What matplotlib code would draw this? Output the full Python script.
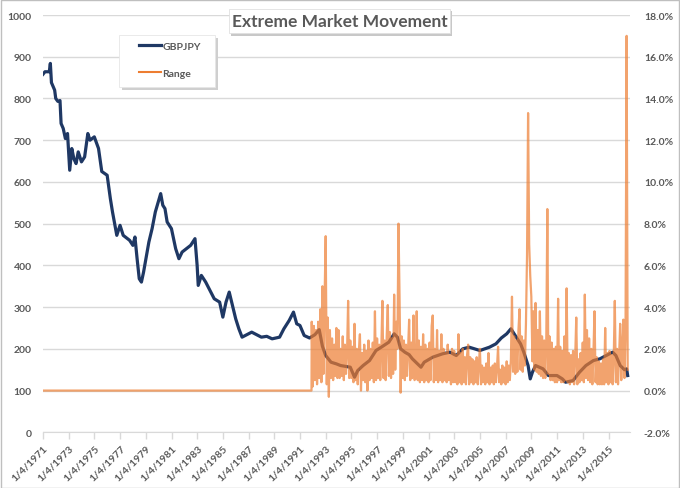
import pandas as pd
import matplotlib
matplotlib.use('Agg')
import matplotlib.pyplot as plt
from matplotlib.patches import Rectangle

plt.rcParams['font.family'] = ['Lato', 'DejaVu Sans']

# GBPJPY (left axis)
gbp_dates = ['1971-01-04', '1971-03', '1971-07', '1971-08', '1971-09', '1971-12', '1972-01', '1972-03',
             '1972-05', '1972-06', '1972-08', '1972-10', '1972-12', '1973-02', '1973-04', '1973-06',
             '1973-08', '1973-10', '1974-01', '1974-04', '1974-07', '1974-09', '1975-01', '1975-05',
             '1975-08', '1976-01', '1976-04', '1976-06', '1976-10', '1977-01', '1977-04', '1977-10',
             '1978-01', '1978-03', '1978-05', '1978-07', '1978-09', '1978-11', '1979-04', '1979-07',
             '1979-10', '1980-03', '1980-05', '1980-07', '1980-09', '1981-01', '1981-05', '1981-08',
             '1981-11', '1982-03', '1982-07', '1982-11', '1983-01', '1983-02', '1983-05', '1983-09',
             '1984-01', '1984-05', '1984-10', '1985-01', '1985-04', '1985-07', '1985-10', '1986-01',
             '1986-04', '1986-07', '1987-01', '1987-04', '1987-07', '1987-10', '1988-01', '1988-06',
             '1988-11', '1989-06', '1989-10', '1990-03', '1990-07', '1990-10', '1991-01', '1991-05',
             '1991-10', '1992-03', '1992-07', '1992-10', '1993-01', '1993-06', '1993-11', '1994-03',
             '1994-12', '1995-04', '1995-07', '1995-12', '1996-06', '1996-12', '1997-05', '1997-12',
             '1998-05', '1998-08', '1998-11', '1999-03', '1999-07', '1999-10', '2000-06', '2000-09',
             '2001-05', '2002-02', '2002-09', '2003-03', '2003-09', '2004-03', '2005-01', '2005-10',
             '2006-04', '2006-09', '2007-02', '2007-06', '2007-11', '2008-03', '2008-06', '2008-10',
             '2008-12', '2009-02', '2009-05', '2009-12', '2010-05', '2011-01', '2011-06', '2011-09',
             '2012-04', '2012-10', '2013-04', '2013-11', '2014-05', '2014-11', '2015-05', '2015-08',
             '2015-12', '2016-04', '2016-06', '2016-07']
gbp_values = [858, 864, 864, 884, 838, 820, 800, 793,
              795, 740, 728, 704, 716, 628, 680, 655,
              644, 672, 648, 660, 716, 700, 708, 680,
              625, 616, 560, 528, 472, 496, 472, 460,
              448, 468, 416, 368, 360, 384, 456, 488,
              528, 572, 544, 536, 504, 488, 440, 416,
              432, 440, 448, 464, 400, 352, 376, 360,
              340, 320, 312, 276, 312, 336, 304, 272,
              248, 228, 236, 240, 236, 232, 228, 230,
              224, 228, 248, 268, 288, 260, 256, 232,
              226, 234, 246, 206, 184, 168, 164, 160,
              156, 132, 148, 160, 172, 196, 204, 216,
              236, 228, 200, 192, 186, 176, 156, 168,
              180, 188, 192, 184, 200, 204, 196, 204,
              212, 226, 236, 248, 228, 212, 192, 160,
              128, 144, 160, 152, 136, 136, 128, 120,
              124, 144, 160, 172, 176, 184, 192, 184,
              160, 150, 152, 136]

# Range in % (right axis): flat zero until late 1991, then monthly values from Dec 1991
range_flat_dates = ['1971-01-04', '1991-11-25']
range_flat_values = [0, 0]
range_start = '1991-12-01'
range_pct = [
    3.3,                                                               # 1991 Dec
    0.2, 3.1, 0.5, 2.9, 0.3, 3.3, 0.6, 3.9, 0.4, 5.0, 0.8, 4.4,        # 1992
    7.4, 0.3, 3.5, -0.3, 2.9, 0.6, 2.5, 0.5, 2.2, 0.7, 3.0, 0.6,       # 1993
    2.9, 0.6, 2.0, 0.7, 2.6, 0.5, 2.2, 0.8, 1.9, 4.3, 0.6, 2.4,        # 1994
    0.6, 2.1, 0.4, 3.2, 0.5, 2.0, 0.3, 1.9, 2.7, 0.0, 1.8, 0.5,        # 1995
    2.2, 0.4, 1.9, 0.0, 2.4, 0.5, 2.0, 0.6, 2.3, 0.4, 3.8, 0.5,        # 1996
    2.5, 0.6, 2.2, 0.5, 2.0, 4.3, 0.6, 2.4, 0.5, 2.6, 4.1, 0.7,        # 1997
    2.8, 0.6, 2.5, 0.8, 4.6, 1.0, 3.3, 2.0, 8.0, 4.5, -0.1, 2.6,       # 1998
    0.6, 2.4, 0.5, 2.2, 0.7, 2.0, 3.4, 0.5, 2.3, 0.6, 3.6, 0.5,        # 1999
    0.6, 3.8, 0.5, 2.4, 0.4, 2.1, 0.5, 2.7, 0.4, 2.2, 0.5, 2.0,        # 2000
    0.4, 2.3, 0.5, 3.1, 3.6, 0.4, 2.0, 0.5, 2.9, 0.4, 1.9, 0.5,        # 2001
    2.7, 0.4, 2.0, 0.5, 1.8, 0.4, 2.2, 0.5, 1.7, 0.3, 2.0, 0.4,        # 2002
    1.9, 0.4, 1.7, 0.3, 2.7, 0.4, 1.8, 0.3, 2.0, 0.4, 1.6, 0.3,        # 2003
    1.7, 2.2, 0.3, 1.6, 0.4, 1.5, 0.3, 1.4, 0.4, 1.6, 0.3, 1.3,        # 2004
    2.0, 0.3, 1.2, 0.4, 1.1, 0.3, 1.3, 0.4, 1.8, 0.3, 1.1, 0.4,        # 2005
    1.2, 0.3, 1.3, 0.4, 1.1, 2.1, 0.4, 1.0, 0.3, 1.2, 0.4, 1.1,        # 2006
    0.3, 1.4, 0.4, 1.2, 0.5, 1.5, 4.5, 0.9, 2.6, 0.8, 2.4, 0.9,        # 2007
    2.9, 3.9, 1.0, 2.6, 0.9, 2.4, 1.2, 3.2, 6.5, 13.3, 7.0, 5.5,       # 2008
    4.5, 1.4, 3.8, 1.0, 4.2, 0.9, 2.9, 0.8, 3.8, 0.7, 2.6, 0.6,        # 2009
    2.4, 0.6, 2.2, 8.7, 0.8, 2.6, 0.5, 2.3, 0.5, 2.0, 0.4, 2.1,        # 2010
    0.4, 4.4, 0.5, 2.1, 0.4, 1.9, 0.4, 2.6, 0.5, 4.9, 0.4, 1.8,        # 2011
    0.3, 1.7, 0.4, 1.9, 0.3, 1.6, 3.5, 0.3, 1.5, 0.4, 1.8, 0.5,        # 2012
    2.3, 0.4, 4.6, 0.6, 2.9, 0.5, 2.5, 0.4, 2.0, 0.3, 1.8, 3.8,        # 2013
    0.4, 1.6, 0.3, 1.4, 0.3, 1.3, 0.3, 1.5, 0.3, 3.0, 0.4, 1.8,        # 2014
    0.3, 1.9, 0.4, 1.7, 0.3, 1.6, 4.3, 0.4, 2.0, 0.3, 1.7, 3.2,        # 2015
    0.5, 2.2, 3.4, 0.6, 2.8, 17.0, 1.0,                                # 2016
]

tick_years = list(range(1971, 2016, 2))
tick_labels = ['1/4/%d' % y for y in tick_years]

navy = '#1F3864'
orange = '#ED7D31'
grey_text = '#595959'
grid = '#D9D9D9'

gbp_x = pd.to_datetime(gbp_dates, format='mixed')
range_x = list(pd.to_datetime(range_flat_dates)) + list(pd.date_range(range_start, periods=len(range_pct), freq='MS'))
range_y = range_flat_values + range_pct

fig = plt.figure(figsize=(6.8, 4.89), dpi=100)
ax = fig.add_axes([43 / 680, 1 - 433.3 / 489, 587 / 680, 417.3 / 489])
ax2 = ax.twinx()

line1, = ax.plot(gbp_x, gbp_values, color=navy, lw=2.3, label='GBPJPY', solid_joinstyle='round')
line2, = ax2.plot(range_x, range_y, color=orange, lw=1.6, alpha=0.7, label='Range')

ax.set_ylim(0, 1000)
ax.set_yticks(range(0, 1001, 100))
ax2.set_ylim(-2, 18)
ax2.set_yticks(range(-2, 19, 2))
ax2.set_yticklabels(['%.1f%%' % v for v in range(-2, 19, 2)])

ax.set_xlim(pd.Timestamp('1971-01-04'), pd.Timestamp('2016-09-05'))
ax.set_xticks([pd.Timestamp('%d-01-04' % y) for y in tick_years])
ax.set_xticklabels(tick_labels, rotation=45, ha='right', rotation_mode='anchor')

ax.grid(axis='y', color=grid, lw=1)
ax.set_axisbelow(True)
for a in (ax, ax2):
    for s in ('top', 'left', 'right'):
        a.spines[s].set_visible(False)
    a.spines['bottom'].set_color(grid)
ax2.spines['bottom'].set_visible(False)

ax.tick_params(axis='x', colors=grid, labelcolor=grey_text, labelsize=7.5, length=5, width=1, direction='out', pad=3)
ax.tick_params(axis='y', length=0, labelcolor=grey_text, labelsize=7.5, pad=8)
ax2.tick_params(axis='y', length=0, labelcolor=grey_text, labelsize=7.5, pad=10)
for lab in ax.get_yticklabels() + ax2.get_yticklabels() + ax.get_xticklabels():
    lab.set_fontweight('bold')

# legend box with soft shadow
fig.patches.append(Rectangle((121.5 / 680, 1 - 91 / 489), 96 / 680, 52 / 489, transform=fig.transFigure,
                             facecolor='#CFCFCF', edgecolor='none', zorder=4))
fig.patches.append(Rectangle((119 / 680, 1 - 88 / 489), 96 / 680, 52 / 489, transform=fig.transFigure,
                             facecolor='white', edgecolor='#E6E6E6', lw=0.6, zorder=4.5))
leg = fig.legend([line1, line2], ['GBPJPY', 'Range'], loc='upper left',
                 bbox_to_anchor=(139 / 680, 1 - 42.5 / 489), borderaxespad=0, borderpad=0,
                 fontsize=7.5, labelspacing=1.7, handlelength=2.1, handletextpad=0.15, frameon=False)
leg.set_zorder(8)
for t in leg.get_texts():
    t.set_color(grey_text)
    t.set_fontweight('bold')
leg.legend_handles[1].set_alpha(1)
leg.legend_handles[1].set_linewidth(1.5)

# title box with shadow
fig.patches.append(Rectangle((231 / 680, 1 - 37 / 489), 221 / 680, 25 / 489, transform=fig.transFigure,
                             facecolor='#C8C8C8', edgecolor='none', zorder=5))
fig.patches.append(Rectangle((229 / 680, 1 - 34 / 489), 221 / 680, 24 / 489, transform=fig.transFigure,
                             facecolor='white', edgecolor='#E0E0E0', lw=0.6, zorder=6))
fig.text(339.5 / 680, 1 - 22 / 489, 'Extreme Market Movement', ha='center', va='center',
         fontsize=12.5, fontweight='bold', color=grey_text, zorder=7)

# outer border
fig.patches.append(Rectangle((0.001, 0.001), 0.997, 0.997, transform=fig.transFigure,
                             facecolor='none', edgecolor='#BFBFBF', lw=1))

fig.savefig('out.png', dpi=100)
